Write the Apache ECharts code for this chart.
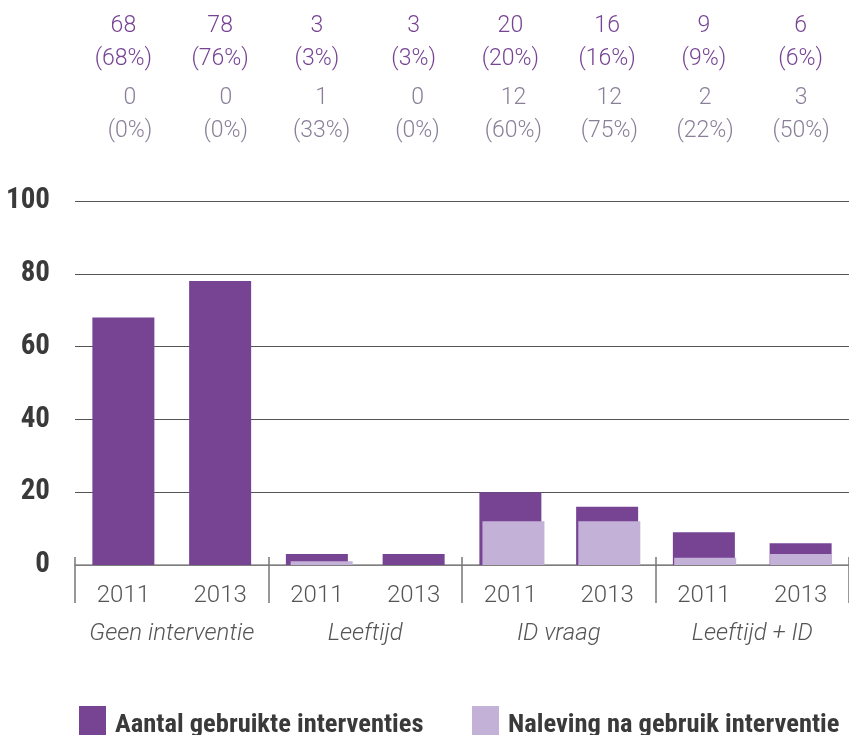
<!DOCTYPE html>
<html>
<head>
<meta charset="utf-8">
<script src="https://cdn.jsdelivr.net/npm/echarts@6/dist/echarts.min.js"></script>
<style>html,body{margin:0;padding:0;background:#fff;}#c{width:849px;height:735px;}</style>
</head>
<body>
<div id="c"></div>
<script>
const years = ['2011','2013','2011','2013','2011','2013','2011','2013'];
const groups = ['Geen interventie','Leeftijd','ID vraag','Leeftijd + ID'];
const aantal = [68, 78, 3, 3, 20, 16, 9, 6];
const aantalPct = [68, 76, 3, 3, 20, 16, 9, 6];
const naleving = [0, 0, 1, 0, 12, 12, 2, 3];
const nalevingPct = [0, 0, 33, 0, 60, 75, 22, 50];
const seriesNames = ['Aantal gebruikte interventies', 'Naleving na gebruik interventie'];
const yTicks = [0, 20, 40, 60, 80, 100];

const DARK = '#774494';
const LIGHT = '#C4B1D7';
const LIGHTFONT = 'Roboto';
const BOLDFONT = '"Liberation Sans Narrow", "Roboto Condensed", "Liberation Sans", sans-serif';
const idx = years.map((_, i) => String(i));

const legendText = {
  rich: {
    t: {fontFamily: BOLDFONT, fontWeight: 'bold', fontSize: 26.5, color: '#3a3a3a', padding: [10, 0, 0, 4]}
  }
};
const legendFmt = name => '{t|' + name + '}';

const chart = echarts.init(document.getElementById('c'), null, {renderer: 'canvas'});
chart.setOption({
  animation: false,
  backgroundColor: '#fff',
  grid: [
    {left: 75, top: 201, width: 776, bottom: 170, containLabel: false},
    {left: 82, top: 201, width: 776, bottom: 170, containLabel: false}
  ],
  legend: [
    {left: 79, top: 706, padding: 0, itemWidth: 27, itemHeight: 29, icon: 'rect', textStyle: legendText, formatter: legendFmt, data: [seriesNames[0]]},
    {left: 472, top: 706, padding: 0, itemWidth: 27, itemHeight: 29, icon: 'rect', textStyle: legendText, formatter: legendFmt, data: [seriesNames[1]]}
  ],
  xAxis: [
    { // years (bottom)
      type: 'category', gridIndex: 0, data: idx, position: 'bottom',
      axisLine: {show: true, lineStyle: {color: '#8c8c8c', width: 1.5}},
      axisTick: {show: false},
      axisLabel: {interval: 0, margin: 19, fontFamily: LIGHTFONT, fontWeight: 300, fontSize: 24, color: '#555',
        formatter: (v, i) => years[i]}
    },
    { // groups (bottom, separators)
      type: 'category', gridIndex: 0, data: groups, position: 'bottom', offset: -8,
      axisLine: {show: false},
      axisTick: {show: true, length: 46, lineStyle: {color: '#777', width: 1.5}},
      axisLabel: {interval: 0, margin: 65, fontFamily: LIGHTFONT, fontWeight: 300, fontStyle: 'italic', fontSize: 24, color: '#555'}
    },
    { // top purple labels
      type: 'category', gridIndex: 0, data: idx, position: 'top',
      axisLine: {show: false}, axisTick: {show: false},
      axisLabel: {interval: 0, margin: 125, fontFamily: LIGHTFONT, fontWeight: 300, fontSize: 23, color: DARK, lineHeight: 33,
        formatter: (v, i) => aantal[i] + '\n(' + aantalPct[i] + '%)'}
    },
    { // light bars + grey top labels
      type: 'category', gridIndex: 1, data: idx, position: 'top',
      axisLine: {show: false}, axisTick: {show: false},
      axisLabel: {interval: 0, margin: 53, fontFamily: LIGHTFONT, fontWeight: 300, fontSize: 23, color: '#8a7f98', lineHeight: 33,
        formatter: (v, i) => naleving[i] + '\n(' + nalevingPct[i] + '%)'}
    }
  ],
  yAxis: [
    {
      type: 'value', gridIndex: 0, min: yTicks[0], max: yTicks[yTicks.length - 1], interval: yTicks[1] - yTicks[0],
      axisLine: {show: false}, axisTick: {show: false},
      splitLine: {show: true, lineStyle: {color: '#555', width: 1}},
      axisLabel: {margin: 25, fontFamily: BOLDFONT, fontWeight: 'bold', fontSize: 29, color: '#3a3a3a'}
    },
    {
      type: 'value', gridIndex: 1, min: yTicks[0], max: yTicks[yTicks.length - 1], interval: yTicks[1] - yTicks[0],
      show: false, splitLine: {show: false}
    }
  ],
  series: [
    {
      name: seriesNames[0], type: 'bar', xAxisIndex: 0, yAxisIndex: 0,
      data: aantal, barWidth: 62, itemStyle: {color: DARK}
    },
    {
      name: seriesNames[1], type: 'bar', xAxisIndex: 3, yAxisIndex: 1,
      data: naleving, barWidth: 62, itemStyle: {color: LIGHT}
    }
  ]
});
</script>
</body>
</html>
